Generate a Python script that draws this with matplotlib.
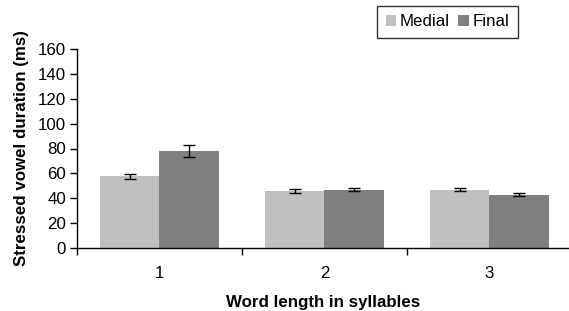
import matplotlib
matplotlib.use("Agg")
import matplotlib.pyplot as plt
import numpy as np

categories = ["1", "2", "3"]
medial = [57.5, 46, 47]
final = [78, 47, 43]
medial_err = [2.2, 1.5, 1.0]
final_err = [4.6, 1.5, 1.5]
yticks = [0, 20, 40, 60, 80, 100, 120, 140, 160]

plt.rcParams['font.family'] = ['Liberation Sans', 'DejaVu Sans']

W, H = 569, 311
fig = plt.figure(figsize=(W/100, H/100), dpi=100)
left, right, top, bottom = 77, 569, 49, 248
ax = fig.add_axes([left/W, 1-bottom/H, (right-left)/W, (bottom-top)/H])

x = np.arange(1, len(categories)+1)
bw = 0.36
ekw = dict(ecolor='black', elinewidth=1.0, capsize=4.5, capthick=1.0)
ax.bar(x - bw/2, medial, bw, color='#C0C0C0', yerr=medial_err, error_kw=ekw, label='Medial', zorder=2)
ax.bar(x + bw/2, final, bw, color='#808080', yerr=final_err, error_kw=ekw, label='Final', zorder=2)

fs = 12.2
ax.set_ylim(0, 160)
ax.set_xlim(0.5, 0.5 + (right-left)/165)
ax.set_yticks(yticks)
ax.set_xticks(x)
ax.set_xticklabels(categories)
ax.set_xticks([0.5, 1.5, 2.5], minor=True)
ax.tick_params(axis='x', which='major', length=0, pad=13, labelsize=fs)
ax.tick_params(axis='x', which='minor', length=5, width=1, direction='out')
ax.tick_params(axis='y', length=5, width=1, direction='out', labelsize=fs, pad=3)
for s in ['top', 'right']:
    ax.spines[s].set_visible(False)
ax.spines['left'].set_linewidth(1)
ax.spines['bottom'].set_linewidth(1)

ax.set_ylabel('Stressed vowel duration (ms)', fontsize=fs, fontweight='bold', labelpad=6)
ax.set_xlabel('Word length in syllables', fontsize=fs, fontweight='bold', labelpad=10)

leg = fig.legend(loc='upper right', bbox_to_anchor=(518/W, 1-6/H), ncol=2, fontsize=fs,
                 frameon=True, fancybox=False, handlelength=0.6, handleheight=0.6,
                 handletextpad=0.25, columnspacing=0.5, borderpad=0.5, borderaxespad=0)
leg.get_frame().set_edgecolor('black')
leg.get_frame().set_linewidth(1)

fig.savefig('out.png', dpi=100)
